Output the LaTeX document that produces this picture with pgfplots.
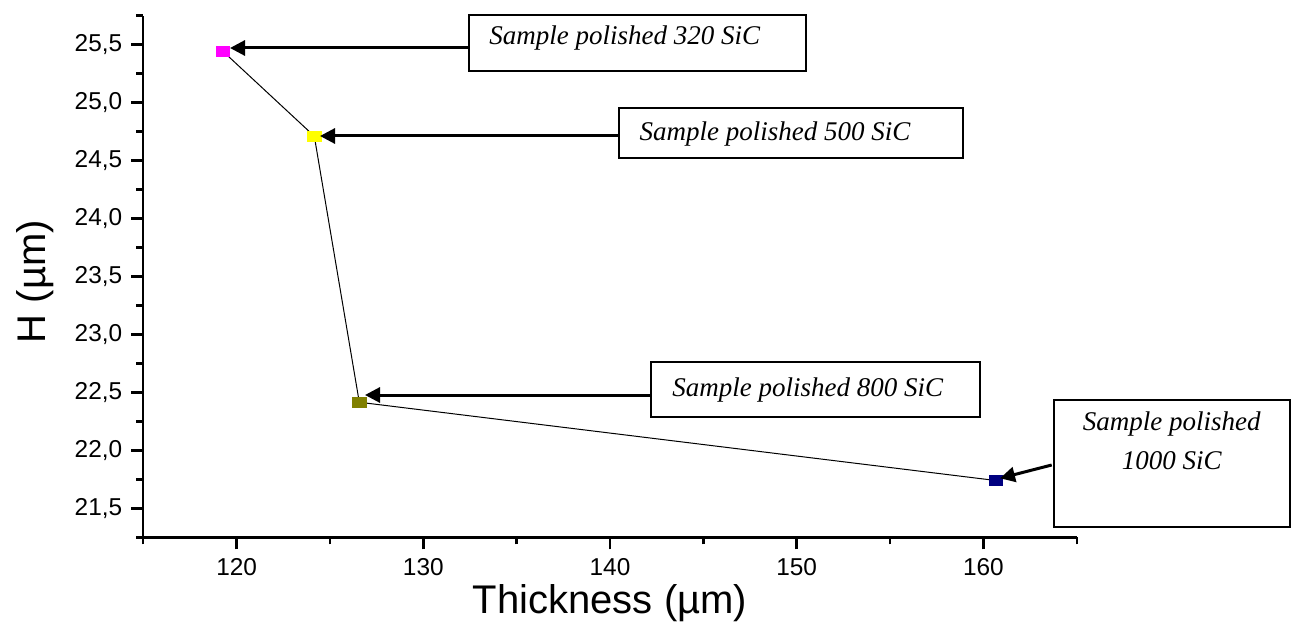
\documentclass[border=0pt]{standalone}
\usepackage{fontspec}
\setmainfont{Liberation Sans}
\newfontfamily\tnr{Liberation Serif}
\usepackage{pgfplots}
\pgfplotsset{compat=1.18}
\usetikzlibrary{arrows.meta}
\definecolor{ptmag}{HTML}{FF00FF}
\definecolor{ptyel}{HTML}{FFFF00}
\definecolor{ptoli}{HTML}{808000}
\definecolor{ptnav}{HTML}{000080}
\begin{document}
\begin{tikzpicture}
\useasboundingbox (-71.65pt,-42.35pt) rectangle (576.35pt,268.65pt);
\begin{axis}[
    scale only axis, width=466.7pt, height=260.85pt,
    xmin=115, xmax=165, ymin=21.25, ymax=25.75,
    axis x line*=bottom, axis y line*=left,
    axis line style={line width=1.2pt, -},
    tick style={line width=1.2pt, black},
    tick align=outside, major tick length=6pt, minor tick length=3.5pt,
    xtick={120,130,140,150,160},
    minor xtick={115,125,135,145,155,165},
    ytick={21.5,22,...,25.5},
    minor ytick={21.25,21.75,...,25.75},
    yticklabel style={/pgf/number format/use comma, /pgf/number format/fixed,
                      /pgf/number format/fixed zerofill, /pgf/number format/precision=1},
    /pgf/number format/assume math mode=true,
    tick label style={font=\fontsize{12.2}{14}\selectfont},
    xticklabel style={yshift=-1pt},
    yticklabel style={xshift=-1pt},
    label style={font=\fontsize{20}{24}\selectfont},
    xlabel={Thickness (µm)}, ylabel={H (µm)},
    xlabel style={at={(axis description cs:0.5,-0.126)}, anchor=center},
    ylabel style={at={(axis description cs:-0.116,0.49)}, anchor=center},
    clip=false,
]
  \addplot[black, line width=0.5pt, mark=none] coordinates {
    (119.28,25.44) (124.16,24.71) (126.57,22.415) (160.66,21.74)};
  \addplot[only marks, mark=square*, mark size=2.5pt, mark options={xscale=1.33, draw=ptmag, fill=ptmag}] coordinates {(119.28,25.44)};
  \addplot[only marks, mark=square*, mark size=2.5pt, mark options={xscale=1.33, draw=ptyel, fill=ptyel}] coordinates {(124.16,24.71)};
  \addplot[only marks, mark=square*, mark size=2.5pt, mark options={xscale=1.33, draw=ptoli, fill=ptoli}] coordinates {(126.57,22.415)};
  \addplot[only marks, mark=square*, mark size=2.5pt, mark options={xscale=1.33, draw=ptnav, fill=ptnav}] coordinates {(160.66,21.74)};
\end{axis}
% annotation boxes
\tikzset{annbox/.style={draw, line width=1pt, fill=white},
         annarr/.style={line width=1.5pt, -{Triangle[length=7.5pt,width=7.5pt]}},
         anntxt/.style={font=\tnr\itshape\fontsize{13.5}{16}\selectfont, inner sep=0pt}}
\draw[annbox] (162.85pt,233.15pt) rectangle (331.35pt,261.15pt);
\node[anntxt, anchor=west] at (172.85pt,249.5pt) {Sample polished 320 SiC};
\draw[annarr] (162.85pt,244.65pt) -- (43.35pt,244.65pt);
\draw[annbox] (237.85pt,189.65pt) rectangle (409.85pt,214.65pt);
\node[anntxt, anchor=west] at (248pt,201.5pt) {Sample polished 500 SiC};
\draw[annarr] (237.85pt,200.65pt) -- (88.35pt,200.65pt);
\draw[annbox] (253.85pt,60.15pt) rectangle (418.35pt,87.65pt);
\node[anntxt, anchor=west] at (264.35pt,73.6pt) {Sample polished 800 SiC};
\draw[annarr] (253.85pt,71.15pt) -- (110.85pt,71.15pt);
\draw[annbox] (455.35pt,5.3pt) rectangle (573.35pt,68.65pt);
\node[anntxt] at (514.2pt,56.5pt) {Sample polished};
\node[anntxt] at (514.2pt,38.2pt) {1000 SiC};
\draw[annarr] (454.2pt,36.15pt) -- (428.35pt,29.5pt);
\end{tikzpicture}
\end{document}
